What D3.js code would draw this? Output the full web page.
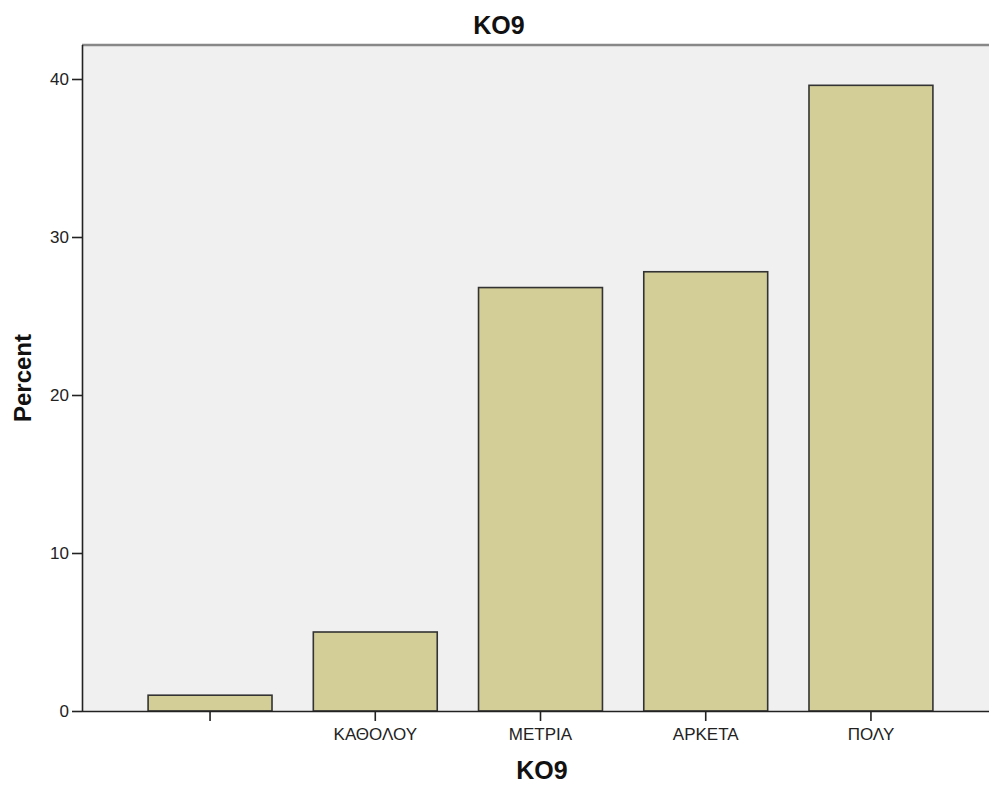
<!DOCTYPE html>
<html><head><meta charset="utf-8">
<script src="https://cdn.jsdelivr.net/npm/d3@7"></script>
<style>body{margin:0;background:#fff}svg{display:block}</style>
</head><body>
<script>
const categories = ["", "ΚΑΘΟΛΟΥ", "ΜΕΤΡΙΑ", "ΑΡΚΕΤΑ", "ΠΟΛΥ"];
const percents = [1.0, 5.0, 26.8, 27.8, 39.6];
const yTicks = [0, 10, 20, 30, 40];

const W = 989, H = 785;
const mLeft = 82, mTop = 45, mBottom = 711, mRight = 999;
const FONT = "'Liberation Sans', Arial, sans-serif";
const svg = d3.select("body").append("svg").attr("width", W).attr("height", H)
  .style("font-family", FONT);

const x = d3.scaleBand().domain(categories).range([mLeft, mRight]).paddingInner(0.25).paddingOuter(0.4);
const y = d3.scaleLinear().domain([0, 40]).range([mBottom, mBottom - 40 * 15.8]);

svg.append("rect").attr("x", mLeft).attr("y", mTop).attr("width", mRight - mLeft).attr("height", mBottom - mTop).attr("fill", "#f0f0f0");
svg.append("line").attr("x1", mLeft).attr("x2", W).attr("y1", mTop).attr("y2", mTop).attr("stroke", "#888").attr("stroke-width", 2.5);

svg.selectAll("rect.bar").data(percents).join("rect").attr("class", "bar")
  .attr("x", (d, i) => x(categories[i]))
  .attr("y", d => y(d))
  .attr("width", x.bandwidth())
  .attr("height", d => y(0) - y(d))
  .attr("fill", "#d3ce98").attr("stroke", "#333").attr("stroke-width", 1.6);

const ya = svg.append("g").attr("transform", `translate(${mLeft},0)`)
  .call(d3.axisLeft(y).tickValues(yTicks).tickSize(10).tickPadding(3).tickFormat(d3.format("d")));
ya.select(".domain").attr("d", `M0.5,${mTop}V${mBottom}`).attr("stroke", "#222").attr("stroke-width", 1.6);
ya.selectAll(".tick line").attr("stroke", "#222").attr("stroke-width", 1.6);
ya.selectAll("text").attr("font-size", 17).attr("fill", "#222").attr("font-family", FONT);

const xa = svg.append("g").attr("transform", `translate(0,${mBottom})`)
  .call(d3.axisBottom(x).tickSize(10).tickPadding(7));
xa.select(".domain").attr("d", `M${mLeft},0.5H${W}`).attr("stroke", "#222").attr("stroke-width", 1.6);
xa.selectAll(".tick line").attr("stroke", "#222").attr("stroke-width", 1.6);
xa.selectAll("text").attr("font-size", 17).attr("fill", "#222").attr("font-family", FONT);

svg.append("text").attr("x", 499).attr("y", 34).attr("text-anchor", "middle")
  .attr("font-size", 25).attr("font-weight", "bold").attr("fill", "#111").text("KO9");
svg.append("text").attr("x", 542).attr("y", 779).attr("text-anchor", "middle")
  .attr("font-size", 25).attr("font-weight", "bold").attr("fill", "#111").text("KO9");
svg.append("text").attr("transform", "translate(31,378) rotate(-90)").attr("text-anchor", "middle")
  .attr("font-size", 24).attr("font-weight", "bold").attr("fill", "#111").text("Percent");
</script>
</body></html>
